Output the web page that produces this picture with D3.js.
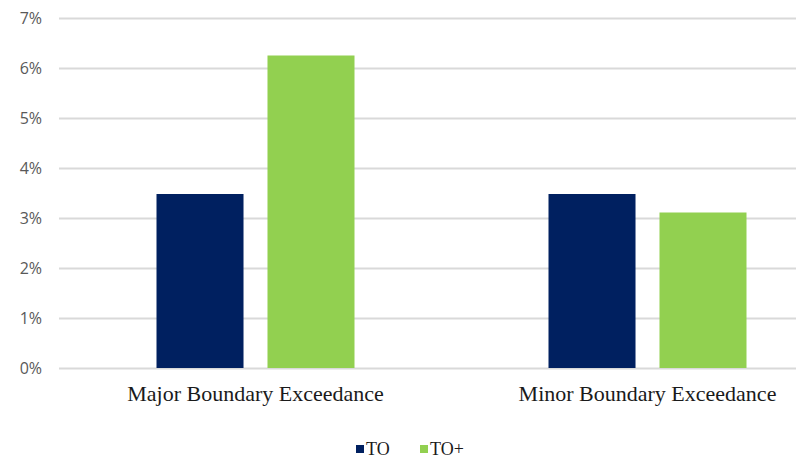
<!DOCTYPE html>
<html>
<head>
<meta charset="utf-8">
<script src="https://cdn.jsdelivr.net/npm/d3@7"></script>
<style>
  html, body { margin: 0; padding: 0; background: #ffffff; }
  svg { display: block; }
</style>
</head>
<body>
<svg id="chart" width="796" height="460"></svg>
<script>
// Exceedance rates by boundary type, TO vs TO+
const categories = ["Major Boundary Exceedance", "Minor Boundary Exceedance"];
const seriesNames = ["TO", "TO+"];
const seriesColors = ["#002060", "#92D050"];
const toValues = [3.48, 3.48];
const toPlusValues = [6.25, 3.11];
const yTicks = [0, 1, 2, 3, 4, 5, 6, 7];

const seriesValues = [toValues, toPlusValues];

const svg = d3.select("#chart");
const W = 796, H = 460;

const y = d3.scaleLinear().domain([0, 7]).range([368, 18]);
const x0 = d3.scaleBand().domain(categories).range([59.5, 843.5]).padding(0);
const x1 = d3.scaleBand().domain(seriesNames).range([0, x0.bandwidth()])
  .paddingInner(0.216).paddingOuter(0.874);

// Horizontal gridlines and percentage labels
const yAxis = d3.axisLeft(y)
  .tickValues(yTicks)
  .tickSize(-(W - 59))
  .tickFormat(d => d + "%");

const gy = svg.append("g")
  .attr("transform", "translate(59,0)")
  .call(yAxis);
gy.select(".domain").remove();
gy.selectAll(".tick line")
  .attr("stroke", "#d9d9d9")
  .attr("stroke-width", 2);
gy.selectAll(".tick text")
  .attr("x", -17)
  .attr("fill", "#595959")
  .style("font-family", "'Open Sans', 'Liberation Sans', sans-serif")
  .style("font-size", "16px");

// Bars
const groups = svg.append("g").selectAll("g")
  .data(categories)
  .join("g")
  .attr("transform", d => `translate(${x0(d)},0)`);

groups.selectAll("rect")
  .data((c, i) => seriesNames.map((s, j) => ({ series: s, value: seriesValues[j][i], color: seriesColors[j] })))
  .join("rect")
  .attr("x", d => x1(d.series))
  .attr("width", x1.bandwidth())
  .attr("y", d => y(d.value))
  .attr("height", d => y(0) - y(d.value))
  .attr("fill", d => d.color);

// Category labels
const xAxis = d3.axisBottom(x0).tickSize(0).tickPadding(0);
const gx = svg.append("g")
  .attr("transform", "translate(0,368)")
  .call(xAxis);
gx.select(".domain").remove();
gx.selectAll(".tick text")
  .attr("dy", 0)
  .attr("y", 33)
  .attr("fill", "#1a1a1a")
  .style("font-family", "'Liberation Serif', 'Times New Roman', serif")
  .style("font-size", "22px");

// Legend
const legendX = [356, 420];
const legend = svg.append("g").selectAll("g")
  .data(seriesNames)
  .join("g")
  .attr("transform", (d, i) => `translate(${legendX[i]},0)`);
legend.append("rect")
  .attr("x", 0).attr("y", 445)
  .attr("width", 8).attr("height", 8)
  .attr("fill", (d, i) => seriesColors[i]);
legend.append("text")
  .attr("x", 10).attr("y", 455)
  .attr("fill", "#1a1a1a")
  .style("font-family", "'Liberation Serif', 'Times New Roman', serif")
  .style("font-size", "18px")
  .text(d => d);
</script>
</body>
</html>
